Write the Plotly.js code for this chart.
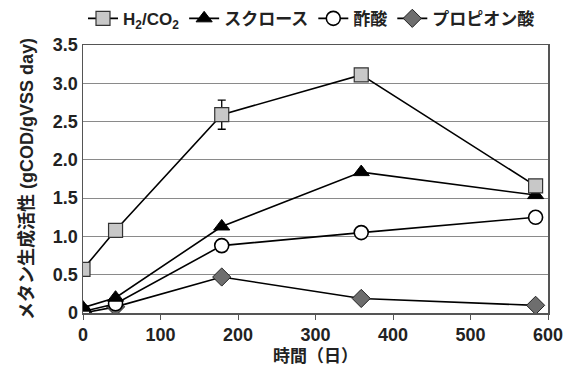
<!DOCTYPE html>
<html><head><meta charset="utf-8">
<script src="https://cdn.plot.ly/plotly-3.0.1.min.js"></script>
<style>body{margin:0;background:#fff}#c{width:566px;height:374px}</style>
</head><body><div id="c"></div>
<script>
const days = [0, 42, 179, 359, 584];
const h2co2 = [0.57, 1.08, 2.59, 3.11, 1.66];
const h2co2Err = [0, 0, 0.19, 0, 0];
const sucrose = [0.07, 0.20, 1.13, 1.84, 1.54];
const acetic = [0.02, 0.12, 0.88, 1.05, 1.25];
const propionic = [0.0, 0.08, 0.47, 0.19, 0.10];
const names = ['H<sub>2</sub>/CO<sub>2</sub>', 'スクロース', '酢酸', 'プロピオン酸'];
const yTicks = [0, 0.5, 1.0, 1.5, 2.0, 2.5, 3.0, 3.5];
const yTickText = ['0', '0.5', '1.0', '1.5', '2.0', '2.5', '3.0', '3.5'];
const xTicks = [0, 100, 200, 300, 400, 500, 600];

const F = 'Liberation Sans, Arial, Noto Sans CJK JP, sans-serif';
const line = {color: '#000', width: 1.6};
const traces = [
  {x: days, y: propionic, name: names[3], mode: 'lines+markers', line: line,
   marker: {symbol: 'diamond', size: 14, color: '#6e6e6e', line: {color: '#222', width: 1}}},
  {x: days, y: acetic, name: names[2], mode: 'lines+markers', line: line,
   marker: {symbol: 'circle', size: 14, color: '#fff', line: {color: '#000', width: 1.6}}},
  {x: days, y: sucrose, name: names[1], mode: 'lines+markers', line: line,
   marker: {symbol: 'triangle-up', size: 14, color: '#000', line: {color: '#000', width: 1}}},
  {x: days, y: h2co2, name: names[0], mode: 'lines+markers', line: line,
   error_y: {type: 'data', array: h2co2Err, visible: true, color: '#000', thickness: 1.3, width: 4},
   marker: {symbol: 'square', size: 14, color: '#c8c8c8', line: {color: '#333', width: 1.2}}}
];
const layout = {
  width: 566, height: 374,
  margin: {l: 83, r: 18, t: 45, b: 61, autoexpand: false},
  paper_bgcolor: '#fff', plot_bgcolor: '#fff',
  font: {family: F, size: 18, color: '#222', weight: 'bold'},
  showlegend: true,
  legend: {orientation: 'h', x: 0.0, xanchor: 'left', y: 1.165, yanchor: 'top',
           traceorder: 'reversed', itemwidth: 30, font: {size: 17, weight: 'bold'}},
  xaxis: {range: [0, 600], tickvals: xTicks, ticks: 'outside', ticklen: 5, tickcolor: '#555',
          showgrid: false, zeroline: false, showline: true, linecolor: '#555', linewidth: 1.5, mirror: true,
          title: {text: '時間（日）', font: {size: 17, weight: 'bold'}, standoff: 6},
          tickfont: {size: 18, weight: 'bold'}},
  yaxis: {range: [0, 3.5], tickvals: yTicks, ticktext: yTickText, ticks: '',
          showgrid: true, gridcolor: '#8a8a8a', gridwidth: 1, zeroline: false,
          showline: true, linecolor: '#555', linewidth: 1.5, mirror: true,
          title: {text: 'メタン生成活性 (gCOD/gVSS day)', font: {size: 18, weight: 'bold'}, standoff: 14},
          tickfont: {size: 18, weight: 'bold'}}
};
Plotly.newPlot('c', traces, layout, {displayModeBar: false, staticPlot: true});
</script></body></html>
